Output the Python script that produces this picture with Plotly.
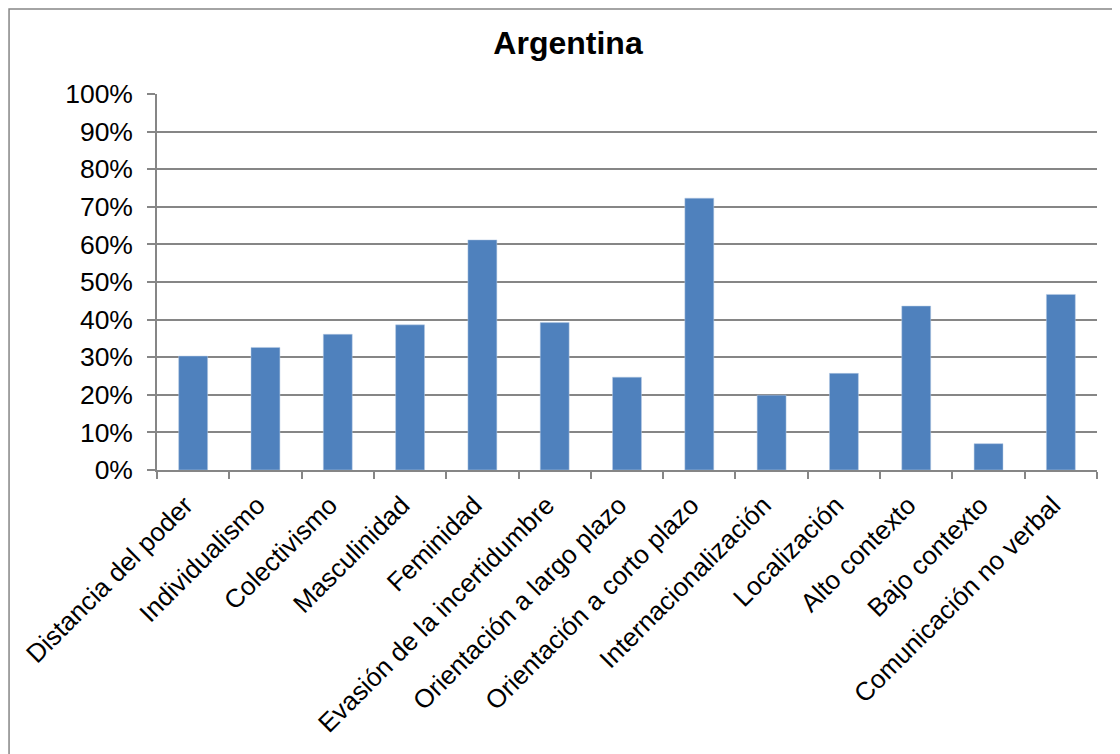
import plotly.graph_objects as go

# Datos del gráfico
categorias = [
    "Distancia del poder", "Individualismo", "Colectivismo", "Masculinidad",
    "Feminidad", "Evasión de la incertidumbre", "Orientación a largo plazo",
    "Orientación a corto plazo", "Internacionalización", "Localización",
    "Alto contexto", "Bajo contexto", "Comunicación no verbal",
]
valores = [0.303, 0.326, 0.361, 0.386, 0.612, 0.392, 0.247,
           0.723, 0.199, 0.257, 0.436, 0.070, 0.467]
ticks_y = [0, 0.1, 0.2, 0.3, 0.4, 0.5, 0.6, 0.7, 0.8, 0.9, 1.0]

gris = "#868686"
fuente = "Liberation Sans, Arial, sans-serif"

fig = go.Figure()
fig.add_trace(go.Bar(
    x=categorias,
    y=valores,
    marker=dict(color="#4F81BD", line=dict(color="#B9CDE5", width=0.5)),
))

fig.update_xaxes(
    automargin=False,
    tickangle=-45,
    tickson="boundaries",
    ticks="outside",
    ticklen=7,
    tickcolor=gris,
    tickwidth=1.5,
    ticklabelstandoff=8,
    ticklabelshift=-8,
    showline=True,
    linecolor=gris,
    linewidth=1.5,
    showgrid=False,
    tickfont=dict(family=fuente, size=26, color="black"),
)

fig.update_yaxes(
    automargin=False,
    range=[0, 1],
    tickvals=ticks_y,
    tickformat=".0%",
    ticks="outside",
    ticklen=8,
    tickcolor=gris,
    tickwidth=1.5,
    ticklabelstandoff=9,
    showline=True,
    linecolor=gris,
    linewidth=1.5,
    showgrid=True,
    gridcolor=gris,
    gridwidth=1.5,
    zeroline=False,
    tickfont=dict(family=fuente, size=26.5, color="black"),
)

# Marco del gráfico
fig.add_shape(type="rect", xref="paper", yref="paper",
              x0=-0.1574, x1=1.2, y0=-1.0, y1=1.226,
              line=dict(color=gris, width=1.5), layer="below")

fig.update_layout(
    title=dict(text="<b>Argentina</b>", x=0.5, xref="container", xanchor="center",
               y=0.9536, yref="container", yanchor="middle",
               font=dict(family=fuente, size=32, color="black")),
    bargap=0.6,
    plot_bgcolor="white",
    paper_bgcolor="white",
    showlegend=False,
    width=1120,
    height=754,
    margin=dict(l=149, r=31, t=86, b=292),
)

fig.write_html("out.html")
